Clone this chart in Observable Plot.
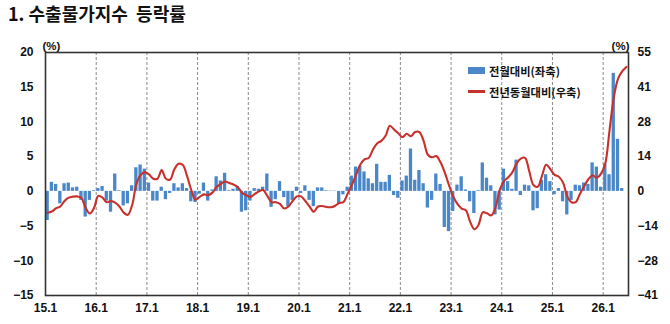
<!DOCTYPE html>
<html><head><meta charset="utf-8">
<script src="https://cdn.jsdelivr.net/npm/d3@7"></script>
<script src="https://cdn.jsdelivr.net/npm/@observablehq/plot@0.6"></script>
<style>
body{margin:0;background:#fff;width:670px;height:324px;overflow:hidden;position:relative;}
#title{height:30px;line-height:31px;padding-left:8px;font:bold 18px "Noto Sans CJK KR",sans-serif;color:#111;white-space:pre;}
#legend{position:absolute;left:468px;top:60px;font:bold 11.3px "Noto Sans CJK KR",sans-serif;color:#111;}
#legend .row{display:flex;align-items:center;height:21px;}
#legend .sw{width:17px;margin-right:4px;}
</style></head><body>
<div id="title">1. 수출물가지수  등락률</div>
<div id="chart"></div>
<div id="legend"></div>
<script>
// Month-over-month change (%), left axis, from 2015.1
const mom = [
  -4.2, 1.3, 1.0, -1.8, 1.1, 1.2, 0.5, 0.6, -1.3, -3.7, -1.3, 0.1,
  0.4, 0.7, -1.4, -3.0, 2.5, 0.1, -2.1, -1.8, 0.8, 3.4, 3.8, 3.2,
  1.2, -1.4, -1.4, 0.6, -1.2, -0.3, 1.1, 0.5, 1.1, 0.4, -1.5, -1.6,
  -0.4, 1.2, -1.4, 0.2, 2.1, 1.5, 2.6, 0.1, 0.3, 0.7, -3.0, -2.8,
  -1.4, 0.4, 0.3, 0.6, 2.5, -2.3, -1.2, 1.4, -0.9, -2.2, -1.3, 0.6,
  -0.3, 0.8, -1.3, -2.2, 0.5, 0.5, 0.1, 0.05, 0.05, -1.8, -0.5, 0.6,
  2.2, 3.5, 3.6, 2.8, 1.8, 1.1, 3.9, 1.3, 1.3, 2.3, -0.6, -1.0,
  1.5, 2.2, 6.1, 1.6, 3.0, 1.1, -2.4, -1.3, 2.5, 1.0, -5.2, -5.8,
  -2.9, 0.9, 2.1, 0.2, -1.5, -3.2, 0.1, 4.1, 1.9, 0.8, -3.4, -2.7,
  3.2, 1.4, 0.3, 4.5, -0.6, 0.9, 0.8, -2.8, -2.5, 1.6, 2.4, 1.4,
  -0.5, 0.4, -1.5, -3.4, -1.3, 0.9, 0.8, 1.2, 1.0, 4.1, 3.5, 0.6,
  3.9, 2.4, 17.0, 7.5, 0.4, null
];
// Year-over-year change (%), right axis
const yoy = [
  -8.5, -8.0, -6.7, -6.0, -3.8, -2.5, -2.1, -2.0, -2.6, -6.5, -8.8, -6.5,
  -1.8, -2.5, -4.3, -3.8, -4.5, -6.0, -8.4, -9.3, -5.5, 2.8, 6.4, 7.6,
  6.7, 5.0, 5.0, 8.4, 5.0, 4.7, 8.7, 10.9, 10.4, 6.1, 0.5, -3.3,
  -2.2, -1.2, -1.5, -0.5, 1.7, 3.0, 3.9, 3.3, 2.7, 1.7, -0.5, -1.5,
  -2.2, -1.1, 0.0, 0.5, -1.8, -4.3, -4.3, -5.0, -6.8, -6.0, -3.8, -2.0,
  -2.0, -3.8, -6.0, -8.1, -6.0, -5.8, -6.2, -6.3, -5.8, -4.6, -4.3, -1.0,
  2.5, 6.5, 10.5, 12.7, 13.2, 16.5, 19.0, 20.0, 22.0, 26.0, 24.5, 23.0,
  21.5, 22.8, 21.8, 23.5, 23.5, 20.0, 14.5, 13.5, 14.0, 11.5, 7.5, 2.5,
  -2.0, -5.0, -6.8, -7.5, -12.0, -15.0, -13.3, -8.3, -8.7, -9.5, -6.5, 0.5,
  4.0, 5.5, 7.5, 11.0, 13.0, 13.3, 8.0, 2.5, 1.8, 6.0, 10.5, 8.8,
  6.5, 5.8, 3.5, -2.0, -4.3, -4.3, -1.0, 2.0, 4.8, 6.4, 5.4, 7.0,
  11.0, 24.0, 37.0, 44.5, 47.5, 49.3
];
const xTickLabels = ["15.1","16.1","17.1","18.1","19.1","20.1","21.1","22.1","23.1","24.1","25.1","26.1"];
const leftTicks = [-15, -10, -5, 0, 5, 10, 15, 20];
const rightTickLabels = ["-41", "-28", "-14", "0", "14", "28", "41", "55"];
const seriesNames = ["전월대비(좌축)", "전년동월대비(우축)"];
const colors = ["#4a87c8", "#c8302c"];

const leftMax = 20, rightMax = 55;
const toLeft = v => v * leftMax / rightMax;
const data = mom.map((m, i) => ({i, mom: m, yoy: yoy[i]}));
const nMonths = data.length;
const xTicks = xTickLabels.map((_, k) => k * 12);

const chart = Plot.plot({
  width: 670,
  height: 294,
  marginLeft: 45,
  marginRight: 42,
  marginTop: 22,
  marginBottom: 29,
  style: {fontFamily: "'Liberation Sans', Arial, sans-serif", fontSize: "12px", fontWeight: "bold", color: "#111", background: "#fff"},
  x: {domain: [0, nMonths], axis: null},
  y: {domain: [-15, 20], axis: null},
  marks: [
    Plot.ruleX(xTicks.slice(1), {stroke: "#8a8a8a", strokeWidth: 1, strokeDasharray: "3,2"}),
    Plot.rect(data.filter(d => d.mom != null), {x1: d => d.i + 0.12, x2: d => d.i + 0.9, y1: 0, y2: "mom", fill: colors[0]}),
    Plot.line(data, {x: d => d.i + 0.5, y: d => toLeft(d.yoy), stroke: colors[1], strokeWidth: 2.1, curve: "catmull-rom"}),
    Plot.frame({stroke: "#333", strokeWidth: 1.6}),
    Plot.axisY({ticks: leftTicks, tickSize: 0, tickPadding: 12, label: null, tickFormat: d => d < 0 ? "\u2212" + Math.abs(d) : String(d)}),
    Plot.axisY({anchor: "right", ticks: leftTicks, tickSize: 0, tickPadding: 9, label: null, tickFormat: (d, k) => rightTickLabels[k].replace("-", "\u2212")}),
    Plot.axisX({ticks: xTicks, tickSize: 0, tickPadding: 8, label: null, tickFormat: (d, k) => xTickLabels[k]}),
    Plot.text(["(%)"], {frameAnchor: "top-left", dy: -11, dx: -3, textAnchor: "start", fontSize: 11.5}),
    Plot.text(["(%)"], {frameAnchor: "top-right", dy: -11, dx: 1, textAnchor: "end", fontSize: 11.5})
  ]
});
document.getElementById("chart").appendChild(chart);

const legend = document.getElementById("legend");
seriesNames.forEach((name, k) => {
  const row = document.createElement("div");
  row.className = "row";
  const sw = document.createElement("span");
  sw.className = "sw";
  sw.style.height = k === 0 ? "7px" : "2.2px";
  sw.style.background = colors[k];
  const t = document.createElement("span");
  t.textContent = name;
  row.appendChild(sw); row.appendChild(t);
  legend.appendChild(row);
});
</script>
</body></html>
